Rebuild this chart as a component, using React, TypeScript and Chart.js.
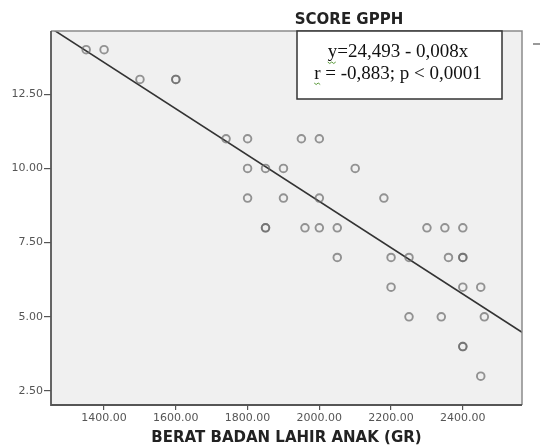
import React, { useEffect, useRef } from "react";
import { Chart, registerables } from "chart.js";

Chart.register(...registerables);

// Observed data (berat badan lahir, score GPPH)
const birthWeight = [
  1350, 1400, 1500, 1600, 1600, 1740, 1800, 1950, 2000,
  1800, 1850, 1900, 2100,
  1800, 1900, 2000, 2180,
  1850, 1850, 1960, 2000, 2050, 2300, 2350, 2400,
  2050, 2200, 2250, 2360, 2400, 2400,
  2200, 2400, 2450,
  2250, 2340, 2460,
  2400, 2400,
  2450,
];
const scoreGpph = [
  14, 14, 13, 13, 13, 11, 11, 11, 11,
  10, 10, 10, 10,
  9, 9, 9, 9,
  8, 8, 8, 8, 8, 8, 8, 8,
  7, 7, 7, 7, 7, 7,
  6, 6, 6,
  5, 5, 5,
  4, 4,
  3,
];

// Fit line endpoints
const fitX = [1250, 2570];
const fitY = [14.74, 4.44];

const xTickValues = [1400, 1600, 1800, 2000, 2200, 2400];
const xTickLabels = ["1400.00", "1600.00", "1800.00", "2000.00", "2200.00", "2400.00"];
const yTickValues = [2.5, 5, 7.5, 10, 12.5];
const yTickLabels = ["2.50", "5.00", "7.50", "10.00", "12.50"];

const yTitle = "SCORE GPPH";
const xTitle = "BERAT BADAN LAHIR ANAK (GR)";
const eqLine1 = "y=24,493 - 0,008x";
const eqLine2 = "r = -0,883; p < 0,0001";

const decorPlugin = {
  id: "decor",
  beforeDatasetsDraw(chart: any) {
    const { ctx, chartArea: a } = chart;
    ctx.save();
    ctx.fillStyle = "#f0f0f0";
    ctx.fillRect(a.left, a.top, a.right - a.left, a.bottom - a.top);
    ctx.restore();
  },
  afterDatasetsDraw(chart: any) {
    const { ctx, chartArea: a } = chart;
    ctx.save();
    // plot frame
    ctx.strokeStyle = "#8a8a8a";
    ctx.lineWidth = 1.5;
    ctx.beginPath();
    ctx.moveTo(a.left, a.top);
    ctx.lineTo(a.right, a.top);
    ctx.lineTo(a.right, a.bottom);
    ctx.stroke();
    ctx.strokeStyle = "#555";
    ctx.lineWidth = 1.8;
    ctx.beginPath();
    ctx.moveTo(a.left, a.top);
    ctx.lineTo(a.left, a.bottom);
    ctx.lineTo(a.right, a.bottom);
    ctx.stroke();

    // equation box
    const bx = 297, by = 31, bw = 205, bh = 68;
    ctx.fillStyle = "#ffffff";
    ctx.fillRect(bx, by, bw, bh);
    ctx.strokeStyle = "#333";
    ctx.lineWidth = 1.5;
    ctx.strokeRect(bx, by, bw, bh);
    ctx.fillStyle = "#111";
    ctx.font = "19px 'Liberation Serif', 'DejaVu Serif', serif";
    ctx.textAlign = "center";
    ctx.textBaseline = "middle";
    const cx = 398;
    ctx.fillText(eqLine1, cx, 52);
    ctx.fillText(eqLine2, cx, 74);
    // spell-check squiggles under y and r
    const w1 = ctx.measureText(eqLine1).width;
    const w2 = ctx.measureText(eqLine2).width;
    const sq = (x0: number, y0: number, len: number) => {
      ctx.strokeStyle = "#5a9a3a";
      ctx.lineWidth = 1;
      ctx.beginPath();
      for (let i = 0; i <= len; i += 2) {
        const yy = y0 + ((i / 2) % 2 === 0 ? 0 : 1.5);
        if (i === 0) ctx.moveTo(x0 + i, yy);
        else ctx.lineTo(x0 + i, yy);
      }
      ctx.stroke();
    };
    sq(cx - w1 / 2, 62, 9);
    sq(cx - w2 / 2, 83, 7);

    // small stray mark at right
    ctx.strokeStyle = "#555";
    ctx.lineWidth = 1.2;
    ctx.beginPath();
    ctx.moveTo(533, 44);
    ctx.lineTo(540, 44);
    ctx.stroke();

    // titles
    ctx.fillStyle = "#222";
    ctx.font = "bold 15px 'DejaVu Sans', sans-serif";
    ctx.textAlign = "center";
    ctx.textBaseline = "middle";
    ctx.fillText(yTitle, 349, 20);
    ctx.fillText(xTitle, (a.left + a.right) / 2, 438);
    ctx.restore();
  },
};

export default function App() {
  const ref = useRef<HTMLCanvasElement>(null);
  useEffect(() => {
    if (!ref.current) return;
    const points = birthWeight.map((x, i) => ({ x, y: scoreGpph[i] }));
    const fit = fitX.map((x, i) => ({ x, y: fitY[i] }));
    const chart = new Chart(ref.current, {
      type: "scatter",
      data: {
        datasets: [
          {
            type: "scatter",
            data: points,
            pointRadius: 3.8,
            pointBorderWidth: 1.9,
            borderColor: "rgba(105,105,105,0.7)",
            backgroundColor: "rgba(0,0,0,0)",
            pointHoverRadius: 3.8,
          } as any,
          {
            type: "line",
            data: fit,
            borderColor: "#333",
            borderWidth: 1.6,
            pointRadius: 0,
            fill: false,
          } as any,
        ],
      },
      options: {
        animation: false,
        responsive: true,
        maintainAspectRatio: false,
        layout: { padding: { top: 31, right: 18, left: 0, bottom: 0 } },
        plugins: { legend: { display: false }, title: { display: false }, tooltip: { enabled: false } },
        scales: {
          x: {
            type: "linear",
            min: 1252,
            max: 2565,
            afterBuildTicks: (s: any) => {
              s.ticks = xTickValues.map((v) => ({ value: v }));
            },
            afterFit: (s: any) => {
              s.height = 41;
            },
            border: { display: false },
            grid: { drawOnChartArea: false, drawTicks: true, tickLength: 5, tickColor: "#555", lineWidth: 1.2 },
            ticks: {
              padding: 2,
              color: "#555",
              font: { family: "'DejaVu Sans', sans-serif", size: 11 },
              maxRotation: 0,
              callback: (_v: any, i: number) => xTickLabels[i],
            },
          },
          y: {
            type: "linear",
            min: 2.03,
            max: 14.63,
            afterBuildTicks: (s: any) => {
              s.ticks = yTickValues.map((v) => ({ value: v }));
            },
            afterFit: (s: any) => {
              s.width = 51;
            },
            border: { display: false },
            grid: { drawOnChartArea: false, drawTicks: true, tickLength: 7, tickColor: "#555", lineWidth: 1.2 },
            ticks: {
              padding: 1,
              color: "#555",
              font: { family: "'DejaVu Sans', sans-serif", size: 11 },
              callback: (_v: any, i: number) => yTickLabels[i],
            },
          },
        },
      },
      plugins: [decorPlugin],
    });
    return () => chart.destroy();
  }, []);
  return (
    <div style={{ position: "absolute", left: 0, top: 0, width: 540, height: 446, background: "#fff" }}>
      <canvas ref={ref} />
    </div>
  );
}
